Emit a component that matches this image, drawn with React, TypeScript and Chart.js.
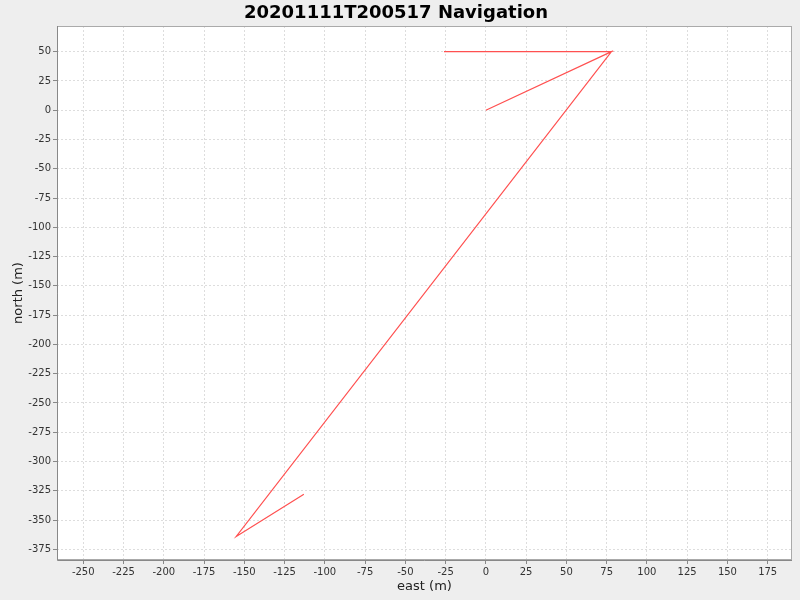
import React, { useEffect, useRef } from "react";
import { Chart, registerables } from "chart.js";

Chart.register(...registerables);

const titleText = "20201111T200517 Navigation";
const xLabel = "east (m)";
const yLabel = "north (m)";

// Track points (east, north) in metres
const east = [-26, 78, 0, 78, -155, -113];
const north = [50, 50, 0, 50, -364, -328];

const xTicks = [-250, -225, -200, -175, -150, -125, -100, -75, -50, -25, 0, 25, 50, 75, 100, 125, 150, 175];
const yTicks = [50, 25, 0, -25, -50, -75, -100, -125, -150, -175, -200, -225, -250, -275, -300, -325, -350, -375];

const xRange = [-266.3, 190.1];
const yRange = [-384.1, 71.9];

const FONT = "'DejaVu Sans', sans-serif";

const bgPlugin = {
  id: "bgPlugin",
  beforeDraw(chart: any) {
    const { ctx, chartArea } = chart;
    ctx.save();
    ctx.fillStyle = "#eeeeee";
    ctx.fillRect(0, 0, chart.width, chart.height);
    ctx.fillStyle = "#ffffff";
    ctx.fillRect(chartArea.left, chartArea.top, chartArea.right - chartArea.left, chartArea.bottom - chartArea.top);
    ctx.restore();
  },
  afterDraw(chart: any) {
    const { ctx, chartArea } = chart;
    ctx.save();
    ctx.strokeStyle = "#aaaaaa";
    ctx.lineWidth = 1;
    ctx.strokeRect(chartArea.left + 0.5, chartArea.top + 0.5, chartArea.right - chartArea.left - 1, chartArea.bottom - chartArea.top - 1);
    ctx.strokeStyle = "#888888";
    ctx.beginPath();
    ctx.moveTo(chartArea.left + 0.5, chartArea.top);
    ctx.lineTo(chartArea.left + 0.5, chartArea.bottom + 0.5);
    ctx.lineTo(chartArea.right, chartArea.bottom + 0.5);
    ctx.stroke();
    ctx.restore();
  },
};

export default function App() {
  const ref = useRef<HTMLCanvasElement>(null);
  useEffect(() => {
    document.body.style.margin = "0";
    const data = east.map((x, i) => ({ x, y: north[i] }));
    const chart = new Chart(ref.current as HTMLCanvasElement, {
      type: "scatter",
      data: {
        datasets: [
          {
            data,
            showLine: true,
            borderColor: "rgb(255,80,80)",
            borderWidth: 1.2,
            pointRadius: 0,
            pointHoverRadius: 0,
            tension: 0,
          },
        ],
      },
      options: {
        animation: false,
        responsive: false,
        devicePixelRatio: 1,
        layout: { padding: { top: 0, right: 8, bottom: 0, left: 0 } },
        plugins: {
          legend: { display: false },
          tooltip: { enabled: false },
          title: {
            display: true,
            text: titleText,
            color: "#000000",
            font: { family: FONT, size: 18, weight: "bold" },
            padding: { top: 3, bottom: 1.4 },
          },
        },
        scales: {
          x: {
            type: "linear",
            min: xRange[0],
            max: xRange[1],
            afterBuildTicks: (s: any) => {
              s.ticks = xTicks.map((v) => ({ value: v }));
            },
            afterFit: (s: any) => {
              s.height = 40;
            },
            border: { display: false, dash: [2, 2] },
            grid: {
              color: "#dddddd",
              tickColor: "#888888",
              tickLength: 4,
              tickBorderDash: [],
            },
            ticks: {
              color: "#333333",
              font: { family: FONT, size: 10 },
              padding: 2,
              maxRotation: 0,
              autoSkip: false,
            },
            title: {
              display: true,
              text: xLabel,
              color: "#222222",
              font: { family: FONT, size: 13 },
              padding: { top: 6, bottom: 6 },
            },
          },
          y: {
            type: "linear",
            min: yRange[0],
            max: yRange[1],
            afterBuildTicks: (s: any) => {
              s.ticks = yTicks.map((v) => ({ value: v }));
            },
            afterFit: (s: any) => {
              s.width = 57;
            },
            border: { display: false, dash: [2, 2] },
            grid: {
              color: "#dddddd",
              tickColor: "#888888",
              tickLength: 4,
              tickBorderDash: [],
            },
            ticks: {
              color: "#333333",
              font: { family: FONT, size: 10 },
              padding: 2,
              autoSkip: false,
            },
            title: {
              display: true,
              text: yLabel,
              color: "#222222",
              font: { family: FONT, size: 13 },
              padding: { top: 11, bottom: 11 },
            },
          },
        },
      },
      plugins: [bgPlugin],
    });
    return () => chart.destroy();
  }, []);
  return (
    <div style={{ width: 800, height: 600, background: "#eeeeee" }}>
      <canvas ref={ref} width={800} height={600} style={{ display: "block" }} />
    </div>
  );
}
